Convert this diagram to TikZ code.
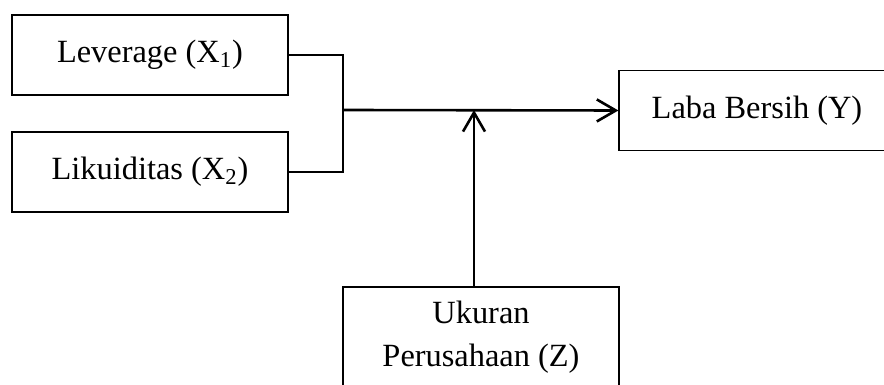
\documentclass[tikz,border=0pt]{standalone}
\usepackage{fontspec}
\setmainfont{Liberation Serif}
\usetikzlibrary{arrows.meta}
\begin{document}
\begin{tikzpicture}[x=0.5pt,y=0.5pt,>={Straight Barb[length=9.5pt,width=11pt]},
	kotak/.style={draw,line width=0.6pt,minimum width=138pt,minimum height=40pt,inner sep=0pt,align=center,font=\fontsize{16.2}{21.5}\selectfont},
	garis/.style={line width=1.3pt}]
	\useasboundingbox (0,0) rectangle (884,385);

	\node[kotak] (lev) at (150,330) {Leverage (X\textsubscript{1})};
	\node[kotak] (lik) at (150,213) {Likuiditas (X\textsubscript{2})};
	\node[kotak] (laba) at (757,274.5) {Laba Bersih (Y)};
	\node[kotak,minimum height=50pt] (uk) at (481,48) {Ukuran\\Perusahaan (Z)};

	\coordinate (j) at (343,275);
	\coordinate (t) at (474,275);

	\draw[garis] (lev.east) -- (lev.east -| j) -- (lik.east -| j) -- (lik.east);
	\draw[garis,->] (j) -- (laba.west);
	\draw[garis,->] (uk.north -| t) -- (t);
\end{tikzpicture}
\end{document}
